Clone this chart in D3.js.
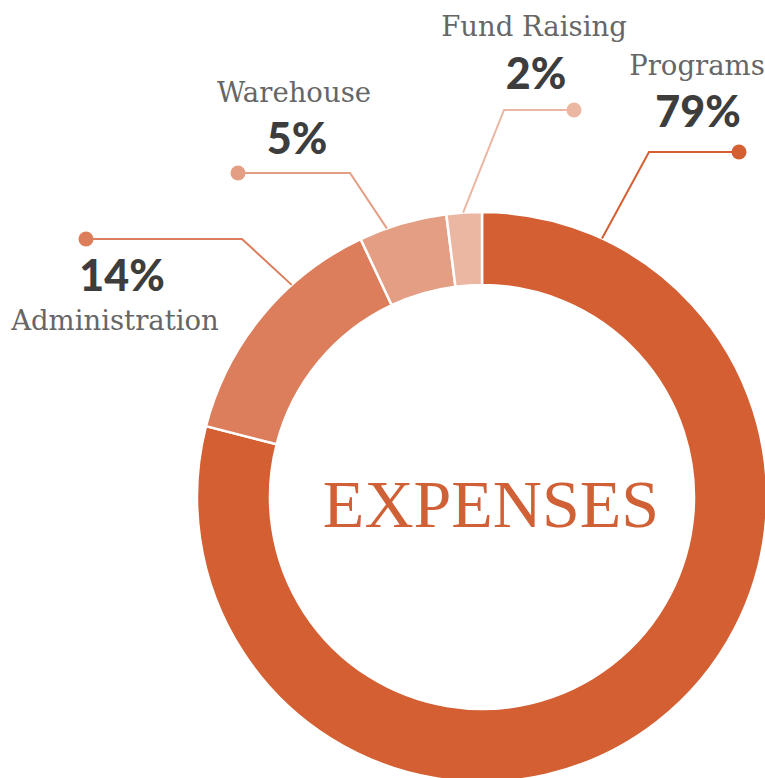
<!DOCTYPE html>
<html>
<head>
<meta charset="utf-8">
<script src="https://cdn.jsdelivr.net/npm/d3@7"></script>
<style>
  html, body { margin: 0; padding: 0; background: #fff; }
  svg { display: block; }
</style>
</head>
<body>
<div id="chart"></div>
<script>
// ---- Data ----
const categories = ["Programs", "Administration", "Warehouse", "Fund Raising"];
const values = [79, 14, 5, 2];
const colors = ["#D35F32", "#DC7E5C", "#E49E84", "#EBB7A2"];
const centerTitle = "EXPENSES";

// ---- Layout (not data) ----
const W = 765, H = 778;
const cx = 482, cy = 497, outerR = 285, innerR = 212;
const labelLayout = {
  "Programs":       { ang: 24.9,  elbow: [649, 152], dot: [739, 152], x: 697, px: 698, nameY: 75,  pctY: 127 },
  "Administration": { ang: 318.1, elbow: [242, 239], dot: [86, 239],  x: 115, px: 122, nameY: 330, pctY: 291 },
  "Warehouse":      { ang: 340.5, elbow: [350, 173], dot: [238, 173], x: 294, px: 297, nameY: 102, pctY: 154 },
  "Fund Raising":   { ang: 356.2, elbow: [504, 110], dot: [574, 110], x: 534, px: 536, nameY: 36,  pctY: 89 }
};

const svg = d3.select("#chart").append("svg")
  .attr("width", W).attr("height", H);

const data = categories.map((c, i) => ({ name: c, value: values[i], color: colors[i] }));

const pie = d3.pie().value(d => d.value).sort(null);
const arc = d3.arc().innerRadius(innerR).outerRadius(outerR);

const g = svg.append("g").attr("transform", `translate(${cx},${cy})`);
g.selectAll("path.slice")
  .data(pie(data))
  .join("path")
  .attr("class", "slice")
  .attr("d", arc)
  .attr("fill", d => d.data.color)
  .attr("stroke", "#fff")
  .attr("stroke-width", 2.5);

svg.append("text")
  .attr("x", 491).attr("y", 527)
  .attr("text-anchor", "middle")
  .attr("font-family", "'Liberation Serif', 'Times New Roman', serif")
  .attr("font-size", 68)
  .attr("fill", "#D06036")
  .text(centerTitle);

const lbl = svg.append("g");
data.forEach(d => {
  const L = labelLayout[d.name];
  const a = L.ang * Math.PI / 180;
  const sx = cx + outerR * Math.sin(a), sy = cy - outerR * Math.cos(a);
  lbl.append("polyline")
    .attr("points", [[sx, sy], L.elbow, L.dot].map(p => p.join(",")).join(" "))
    .attr("fill", "none")
    .attr("stroke", d.color)
    .attr("stroke-width", 2);
  lbl.append("circle")
    .attr("cx", L.dot[0]).attr("cy", L.dot[1]).attr("r", 7.5)
    .attr("fill", d.color);
  lbl.append("text")
    .attr("x", L.x).attr("y", L.nameY)
    .attr("text-anchor", "middle")
    .attr("font-family", "'DejaVu Serif', serif")
    .attr("font-size", 27.5)
    .attr("fill", "#666666")
    .text(d.name);
  lbl.append("text")
    .attr("x", L.px).attr("y", L.pctY)
    .attr("text-anchor", "middle")
    .attr("font-family", "Lato, 'Open Sans', sans-serif")
    .attr("font-weight", 900)
    .attr("font-size", 43)
    .attr("fill", "#3d3d3d")
    .text(d.value + "%");
});
</script>
</body>
</html>
